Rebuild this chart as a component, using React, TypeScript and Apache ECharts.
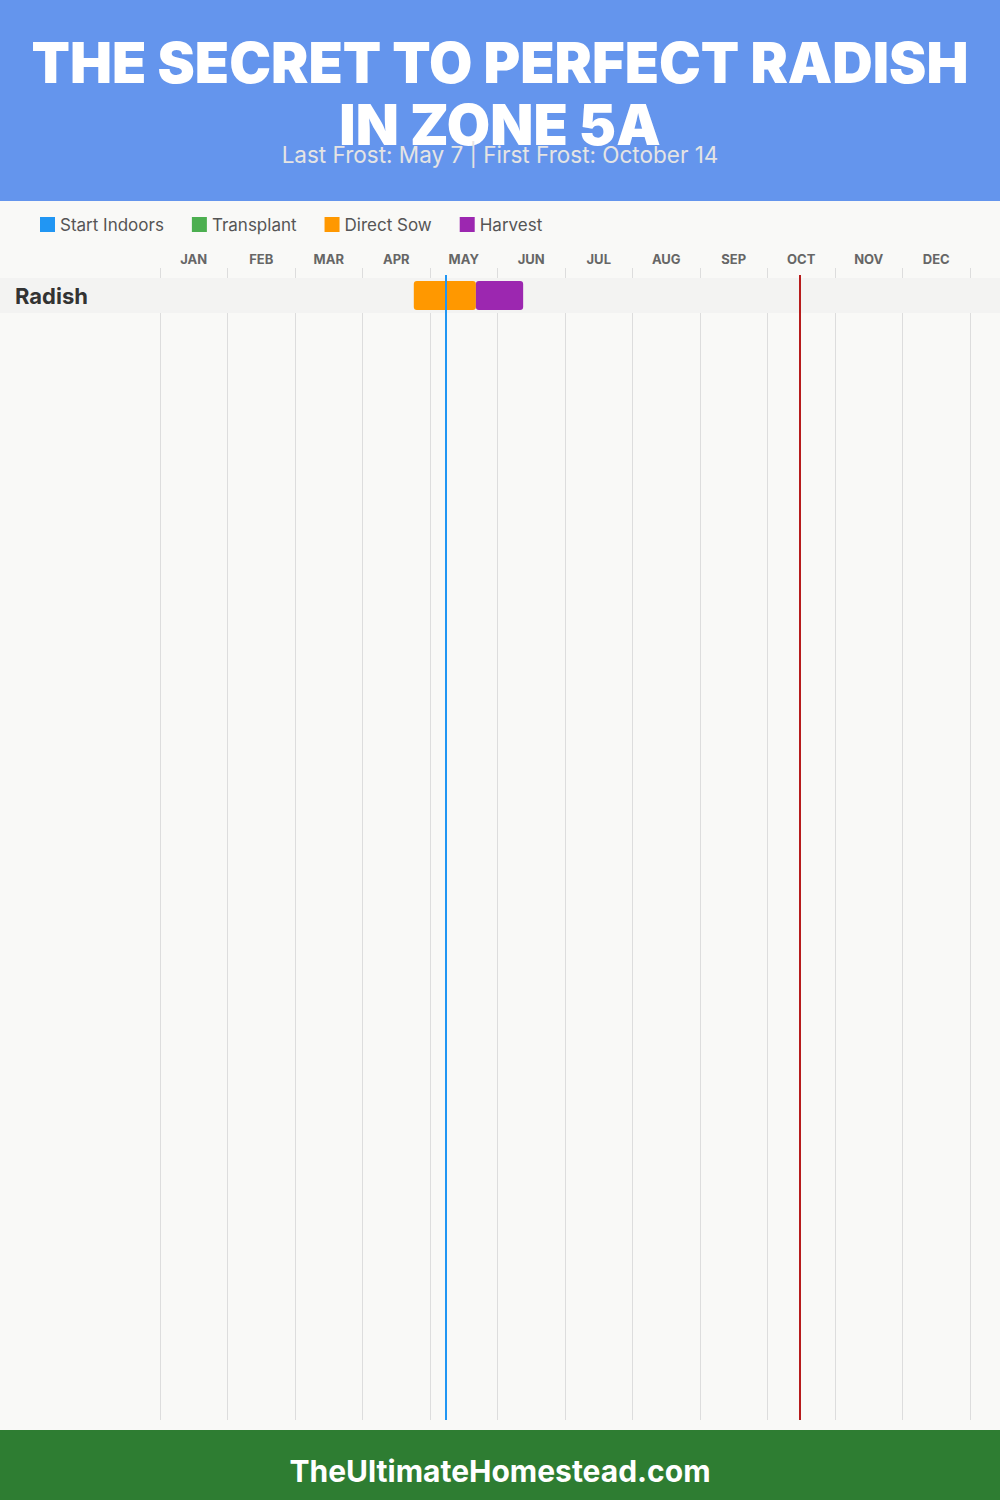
import React, { useEffect, useRef } from 'react';
import * as echarts from 'echarts';

const MONTHS = ['JAN', 'FEB', 'MAR', 'APR', 'MAY', 'JUN', 'JUL', 'AUG', 'SEP', 'OCT', 'NOV', 'DEC'];
const CROPS = ['Radish'];
const STAGES = ['Start Indoors', 'Transplant', 'Direct Sow', 'Harvest'];
const STAGE_COLORS = ['#2196F3', '#4CAF50', '#FF9800', '#9C27B0'];
// [cropIndex, start, end] in month units (0 = Jan 1, 12 = Dec 31)
const START_INDOORS: number[][] = [];
const TRANSPLANT: number[][] = [];
const DIRECT_SOW = [[0, 3.76, 4.68]];
const HARVEST = [[0, 4.68, 5.38]];
const STAGE_DATA = [START_INDOORS, TRANSPLANT, DIRECT_SOW, HARVEST];
const LAST_FROST = 4.235; // May 7
const FIRST_FROST = 9.48; // Oct 14

const FONT = 'Inter, "Noto Sans", sans-serif';

export default function App() {
  const ref = useRef<HTMLDivElement>(null);
  useEffect(() => {
    if (!ref.current) return;
    const chart = echarts.init(ref.current, undefined, { renderer: 'svg' });

    const renderBar = (params: any, api: any) => {
      const row = api.value(0);
      const s = api.coord([api.value(1), row]);
      const e = api.coord([api.value(2), row]);
      const h = api.size([0, 1])[1] * 0.83;
      return {
        type: 'rect',
        shape: { x: s[0], y: s[1] - h / 2, width: e[0] - s[0], height: h, r: 3 },
        style: { fill: api.visual('color') },
      };
    };

    const renderBand = (params: any, api: any) => {
      const c = api.coord([0, api.value(0)]);
      const h = api.size([0, 1])[1];
      return {
        type: 'rect',
        shape: { x: 0, y: c[1] - h / 2, width: api.getWidth(), height: h },
        style: { fill: '#f3f3f2' },
      };
    };

    const option: any = {
      animation: false,
      backgroundColor: '#f9f9f7',
      textStyle: { fontFamily: FONT },
      graphic: [
        { type: 'rect', left: 0, top: 0, z: -10, shape: { width: 1000, height: 201 }, style: { fill: '#6495ED' } },
        { type: 'rect', left: 0, top: 1430, z: -10, shape: { width: 1000, height: 70 }, style: { fill: '#2E7D32' } },
        {
          type: 'text', left: 'center', top: 1456, z: 10,
          style: { text: 'TheUltimateHomestead.com', fill: '#ffffff', font: `bold 30px ${FONT}` },
        },
      ],
      title: [
        {
          text: 'THE SECRET TO PERFECT RADISH\nIN ZONE 5A',
          left: 'center', top: 32, padding: 0,
          textStyle: { color: '#ffffff', fontSize: 56, fontWeight: 900, lineHeight: 62, fontFamily: FONT, align: 'center' },
        },
        {
          text: 'Last Frost: May 7 | First Frost: October 14',
          left: 'center', top: 143, padding: 0,
          textStyle: { color: '#e4e4e4', fontSize: 22.5, fontWeight: 400, fontFamily: FONT },
        },
      ],
      legend: {
        left: 40, top: 216, padding: 0,
        itemWidth: 15, itemHeight: 15, itemGap: 28, icon: 'rect',
        textStyle: { color: '#555', fontSize: 17, fontFamily: FONT },
        data: STAGES,
        selectedMode: false,
      },
      grid: [
        { left: 160, right: 30, top: 275, bottom: 80 },
        { left: 160, right: 30, top: 278, height: 35 },
      ],
      xAxis: [
        {
          gridIndex: 0, type: 'value', min: 0, max: 12, interval: 1,
          axisLabel: { show: false }, axisLine: { show: false }, axisTick: { show: false },
          splitLine: { show: true, lineStyle: { color: '#dddddd', width: 1 } },
        },
        {
          gridIndex: 1, type: 'value', min: 0, max: 12, interval: 1, position: 'top',
          axisLabel: { show: false }, axisLine: { show: false },
          axisTick: { show: true, length: 10, inside: false, lineStyle: { color: '#dddddd' } },
          splitLine: { show: false },
        },
        {
          gridIndex: 1, type: 'category', data: MONTHS, position: 'top', boundaryGap: true,
          axisLine: { show: false }, axisTick: { show: false }, splitLine: { show: false },
          axisLabel: { margin: 13, fontSize: 13, fontWeight: 'bold', color: '#666', fontFamily: FONT },
        },
      ],
      yAxis: [
        { gridIndex: 0, type: 'value', show: false, min: 0, max: 1 },
        {
          gridIndex: 1, type: 'category', data: CROPS, inverse: true, z: 6,
          axisLine: { show: false }, axisTick: { show: false }, splitLine: { show: false },
          axisLabel: { align: 'left', margin: 145, fontSize: 22, fontWeight: 'bold', color: '#333', fontFamily: FONT },
        },
      ],
      series: [
        {
          type: 'custom', name: 'band', xAxisIndex: 1, yAxisIndex: 1, z: 1, silent: true,
          renderItem: renderBand, encode: { y: 0 },
          data: CROPS.map((_, i) => [i]),
        },
        ...STAGES.map((name, i) => ({
          type: 'custom', name, xAxisIndex: 1, yAxisIndex: 1, z: 3,
          itemStyle: { color: STAGE_COLORS[i] },
          renderItem: renderBar, encode: { x: [1, 2], y: 0 },
          data: STAGE_DATA[i],
        })),
        {
          type: 'line', name: 'frost', xAxisIndex: 0, yAxisIndex: 0, z: 10, data: [],
          markLine: {
            silent: true, symbol: 'none', label: { show: false },
            data: [
              { xAxis: LAST_FROST, lineStyle: { color: '#2196F3', width: 2, type: 'solid' } },
              { xAxis: FIRST_FROST, lineStyle: { color: '#B71C1C', width: 2, type: 'solid' } },
            ],
          },
        },
      ],
    };
    chart.setOption(option);
    return () => chart.dispose();
  }, []);
  return <div ref={ref} style={{ position: 'absolute', left: 0, top: 0, width: 1000, height: 1500 }} />;
}
